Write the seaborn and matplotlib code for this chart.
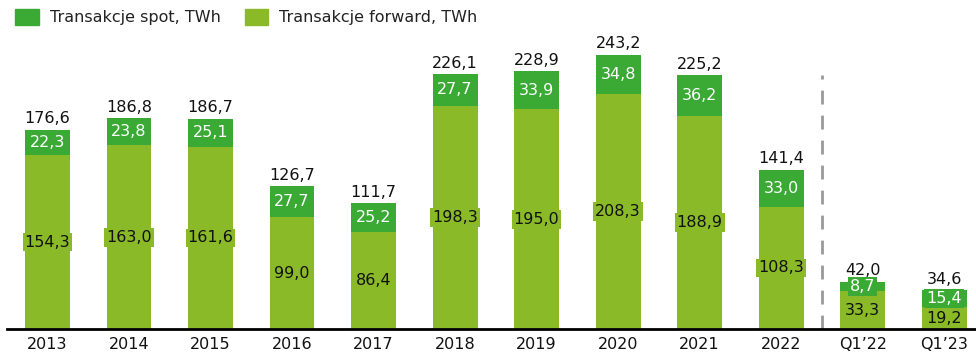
import matplotlib
matplotlib.use("Agg")
import matplotlib.pyplot as plt
from matplotlib.patches import Patch
import seaborn as sns
import pandas as pd

categories = ["2013", "2014", "2015", "2016", "2017", "2018", "2019", "2020",
              "2021", "2022", "Q1\u201922", "Q1\u201923"]
forward = [154.3, 163.0, 161.6, 99.0, 86.4, 198.3, 195.0, 208.3, 188.9, 108.3, 33.3, 19.2]
spot = [22.3, 23.8, 25.1, 27.7, 25.2, 27.7, 33.9, 34.8, 36.2, 33.0, 8.7, 15.4]
totals = [176.6, 186.8, 186.7, 126.7, 111.7, 226.1, 228.9, 243.2, 225.2, 141.4, 42.0, 34.6]

SPOT_COLOR = "#3aaa35"
FWD_COLOR = "#8aba28"

sns.set_theme(style="white")
plt.rcParams["font.family"] = ["DejaVu Sans"]

df = pd.DataFrame({"okres": categories, "forward": forward, "spot": spot, "suma": totals})

def fmt(v):
    return f"{v:.1f}".replace(".", ",")

fig = plt.figure(figsize=(9.76, 3.57), dpi=100)
ax = fig.add_axes([7 / 976, 28 / 357, 969 / 976, 299 / 357])

# total height drawn in spot colour, forward part laid over it
sns.barplot(data=df, x="okres", y="suma", color=SPOT_COLOR, saturation=1,
            width=0.55, ax=ax, edgecolor="none")
sns.barplot(data=df, x="okres", y="forward", color=FWD_COLOR, saturation=1,
            width=0.55, ax=ax, edgecolor="none")

ax.set_xlim(-0.497, 11.39)
ax.set_ylim(0, 265.3)

fs = 11.5
for i, (f, s, t) in enumerate(zip(forward, spot, totals)):
    ax.text(i, f / 2, fmt(f), ha="center", va="center", fontsize=fs, color="#111111",
            bbox=dict(boxstyle="square,pad=0.12", fc=FWD_COLOR, ec="none"))
    ax.text(i, f + s / 2, fmt(s), ha="center", va="center", fontsize=fs, color="white",
            bbox=dict(boxstyle="square,pad=0.12", fc=SPOT_COLOR, ec="none"))
    ax.annotate(fmt(t), (i, t), xytext=(0, 2.5), textcoords="offset points",
                ha="center", va="bottom", fontsize=fs, color="#111111")

# separator between yearly and quarterly figures
ax.plot([9.5, 9.5], [0, 225], color="#999999", lw=2, ls=(0, (5, 4)),
        solid_capstyle="butt", dash_capstyle="butt")

ax.set_xlabel("")
ax.set_ylabel("")
ax.set_yticks([])
ax.tick_params(axis="x", length=0, labelsize=fs, colors="#111111", pad=6)
for side in ("top", "right", "left"):
    ax.spines[side].set_visible(False)
ax.spines["bottom"].set_color("black")
ax.spines["bottom"].set_linewidth(2)

handles = [Patch(color=SPOT_COLOR, label="Transakcje spot, TWh"),
           Patch(color=FWD_COLOR, label="Transakcje forward, TWh")]
fig.legend(handles=handles, loc="upper left", bbox_to_anchor=(0.001, 1.015), ncol=2,
           frameon=False, fontsize=fs, handlelength=1.5, handleheight=1.15,
           handletextpad=0.65, columnspacing=1.5, labelcolor="#222222")

fig.savefig("out.png", dpi=100)
